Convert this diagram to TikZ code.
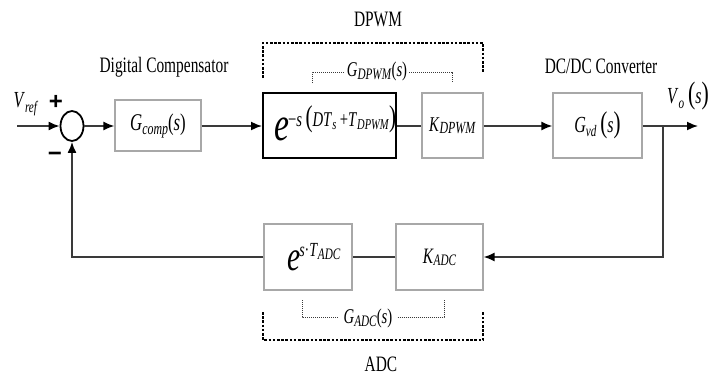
\documentclass[tikz,border=0pt]{standalone}
\usepackage{amsmath}
\usepackage{fontspec}
\setmainfont{Liberation Serif}[FakeStretch=0.7]
\newfontfamily\signfont{Liberation Sans}
\usetikzlibrary{arrows.meta,shapes.geometric}
\definecolor{boxgray}{HTML}{A8A8A8}
\definecolor{linegray}{HTML}{3A3A3A}
\newcommand{\fs}[1]{\fontsize{#1}{#1}\selectfont}
\newcommand{\lsub}[3][3pt]{\raisebox{-#1}{\fs{#2}\textit{#3}}}
\tikzset{
  blk/.style={draw=boxgray, line width=1.2pt, inner sep=0pt},
  thickblk/.style={draw=black, line width=2pt, inner sep=0pt},
  conn/.style={draw=linegray, line width=1.6pt},
  arr/.style={conn, -{Latex[length=11pt,width=9pt,color=black]}},
  outerbr/.style={draw=black, line width=2.2pt, dash pattern=on 2.6pt off 1.6pt},
  innerbr/.style={draw=linegray, line width=1pt, dash pattern=on 1pt off 1pt},
  lbl/.style={inner sep=0pt, font=\fs{22}},
  signlbl/.style={inner sep=0pt, font=\signfont\bfseries\fs{24}},
  sumc/.style={draw=black, line width=1.8pt, ellipse, minimum width=23pt, minimum height=30pt, inner sep=0pt}
}
\begin{document}
\begin{tikzpicture}[x=1pt,y=-1pt]
\useasboundingbox (0,0) rectangle (721,378);

% forward path
\node[sumc] (sum) at (72,126) {};
\node[blk, minimum width=86pt, minimum height=51pt] (gc) at (158,125.5)
  {\fs{24}\textit{G}\lsub[4pt]{17}{comp}(\textit{s})};
\node[thickblk, minimum width=133pt, minimum height=65pt] (ed) at (329.5,125.5) {};
\node[inner sep=0pt, anchor=base west] (edt) at (274,140)
  {\fs{48}\textit{e}\raisebox{14pt}{\fs{21}\kern-1pt−\textit{s}\,{\fs{30}(}\textit{DT}\lsub{15}{s}\,+\textit{T}\lsub{15}{DPWM}{\fs{30})}}};
\node[blk, minimum width=61pt, minimum height=65pt] (kd) at (452.5,125.5)
  {\fs{21}\textit{K}\lsub[2pt]{17}{DPWM}};
\node[blk, minimum width=89pt, minimum height=65pt] (gvd) at (597.5,125.5)
  {\fs{23}\textit{G}\lsub[4pt]{16}{vd}\,{\fs{30}(}\textit{s}{\fs{30})}};

% feedback path
\node[blk, minimum width=87pt, minimum height=66pt] (ka) at (439.5,257)
  {\fs{22}\textit{K}\lsub[2pt]{16}{ADC}};
\node[blk, minimum width=88pt, minimum height=66pt] (ea) at (308,257) {};
\node[inner sep=0pt, anchor=base west] (eat) at (287,270)
  {\fs{42}\textit{e}\raisebox{14pt}{\fs{20}\kern-1pt\textit{s}·\textit{T}\lsub{16}{ADC}}};

% input/output coordinates
\coordinate (in) at (17,126);
\coordinate (br) at (663,126);
\coordinate (out) at (698,126);

% connectors
\draw[arr] (in) -- (sum.west);
\draw[arr] (sum.east) -- (sum.east -| gc.west);
\draw[arr] (gc.east |- br) -- (ed.west |- br);
\draw[conn] (ed.east |- br) -- (kd.west |- br);
\draw[arr] (kd.east |- br) -- (gvd.west |- br);
\draw[arr] (gvd.east |- br) -- (out);
\draw[arr] (br) |- (ka.east);
\draw[conn] (ka.west) -- (ea.east);
\draw[arr] (ea.west) -| (sum.south);

% labels
\node[inner sep=0pt, font=\fs{23}] (vref) at (26,104) {\textit{V}\lsub[5pt]{16}{ref}};
\node[signlbl] (plus) at (56,102) {+};
\node[signlbl] (minus) at (55,157) {−};
\node[lbl] (dc) at (164,67) {Digital Compensator};
\node[lbl] (dpwm) at (378,19) {DPWM};
\node[lbl] (dcdc) at (601,66) {DC/DC Converter};
\node[lbl] (adc) at (381,364) {ADC};
\node[inner sep=0pt] (vo) at (688,96)
  {\fs{23}\textit{V}\lsub[5pt]{16}{o}\,{\fs{31}(}\textit{s}{\fs{31})}};

% DPWM brackets
\node[inner sep=2pt] (gdp) at (377,71)
  {\fs{21}\textit{G}\lsub[3pt]{16}{DPWM}(\textit{s})};
\draw[outerbr] (263,78) -- (263,43) -- (483,43) -- (483,73);
\draw[innerbr] (312,83) -- (312,72) -- (gdp.west |- 0,72);
\draw[innerbr] (gdp.east |- 0,72) -- (452,72) -- (452,83);

% ADC brackets
\node[inner sep=5pt] (gad) at (368,318)
  {\fs{21}\textit{G}\lsub[3pt]{16}{ADC}(\textit{s})};
\draw[outerbr] (263,312) -- (263,340) -- (483,340) -- (483,312);
\draw[innerbr] (302,300) -- (302,317) -- (gad.west |- 0,317);
\draw[innerbr] (gad.east |- 0,317) -- (444,317) -- (444,300);
\end{tikzpicture}
\end{document}
